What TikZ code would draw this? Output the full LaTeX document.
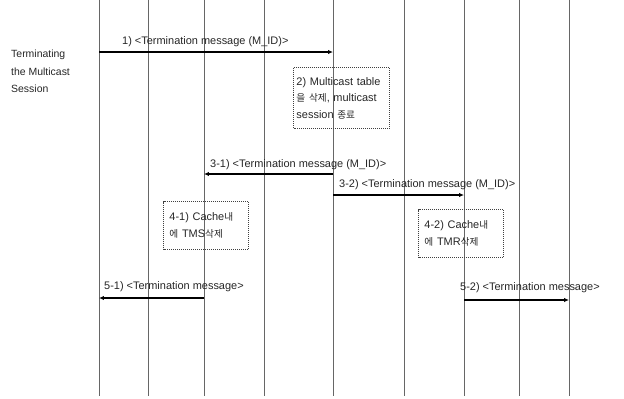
\documentclass[tikz,border=0pt]{standalone}
\usepackage{fontspec}
\setmainfont{Liberation Sans}
\newfontfamily\kr[Scale=0.88]{Noto Sans CJK KR}
\usetikzlibrary{arrows.meta}
\begin{document}
\begin{tikzpicture}[x=1bp,y=-1bp,
  lifeline/.style={draw=black!60,line width=0.7pt},
  msg/.style={draw=black,line width=1.2pt,-{Latex[length=5pt,width=4.5pt]}},
  lbl/.style={font=\fontsize{11}{12}\selectfont,text=black!85,inner sep=0pt,anchor=base west},
  note/.style={draw=black!75,densely dotted,line width=1pt,font=\fontsize{11}{16.5}\selectfont,
    text=black!85,align=left,anchor=north west,inner xsep=3pt,inner ysep=2pt},
]
\useasboundingbox (0,0) rectangle (624,398);
\foreach \n/\x in {1/99,2/148,3/204,4/264,5/333,6/404,7/464,8/519,9/569}{
  \coordinate (t\n) at (\x,0);
  \coordinate (b\n) at (\x,396);
  \draw[lifeline] (t\n) -- (b\n);
}
% left caption
\node[font=\fontsize{10.5}{17.5}\selectfont,text=black!85,align=left,anchor=north west,inner sep=0pt]
  (cap) at (11,50) {Terminating\\the Multicast\\Session};
% message 1
\coordinate (m1s) at (99,52); \coordinate (m1e) at (333,52);
\draw[msg] (m1s) -- (m1e);
\node[lbl] (l1) at (122,44) {1) <Termination message (M\_ID)>};
% note 2
\node[note,text width=90bp,minimum height=61bp] (n2) at (293,67)
  {2) Multicast table\\{\kr 을 삭제}, multicast\\session {\kr 종료}};
% message 3-1
\coordinate (m31s) at (333,174); \coordinate (m31e) at (204,174);
\draw[msg] (m31s) -- (m31e);
\node[lbl] (l31) at (210,167) {3-1) <Termination message (M\_ID)>};
% message 3-2
\coordinate (m32s) at (333,195); \coordinate (m32e) at (464,195);
\draw[msg] (m32s) -- (m32e);
\node[lbl] (l32) at (339,187) {3-2) <Termination message (M\_ID)>};
% note 4-1
\node[note,text width=73bp,minimum height=48bp,inner xsep=6pt] (n41) at (163,201)
  {4-1) Cache{\kr 내}\\{\kr 에} TMS{\kr 삭제}};
% note 4-2
\node[note,text width=73bp,minimum height=48bp,inner xsep=6pt] (n42) at (418,209)
  {4-2) Cache{\kr 내}\\{\kr 에} TMR{\kr 삭제}};
% message 5-1
\coordinate (m51s) at (204,298); \coordinate (m51e) at (99,298);
\draw[msg] (m51s) -- (m51e);
\node[lbl] (l51) at (104,289) {5-1) <Termination message>};
% message 5-2
\coordinate (m52s) at (464,300); \coordinate (m52e) at (569,300);
\draw[msg] (m52s) -- (m52e);
\node[lbl] (l52) at (460,290) {5-2) <Termination message>};
\end{tikzpicture}
\end{document}
